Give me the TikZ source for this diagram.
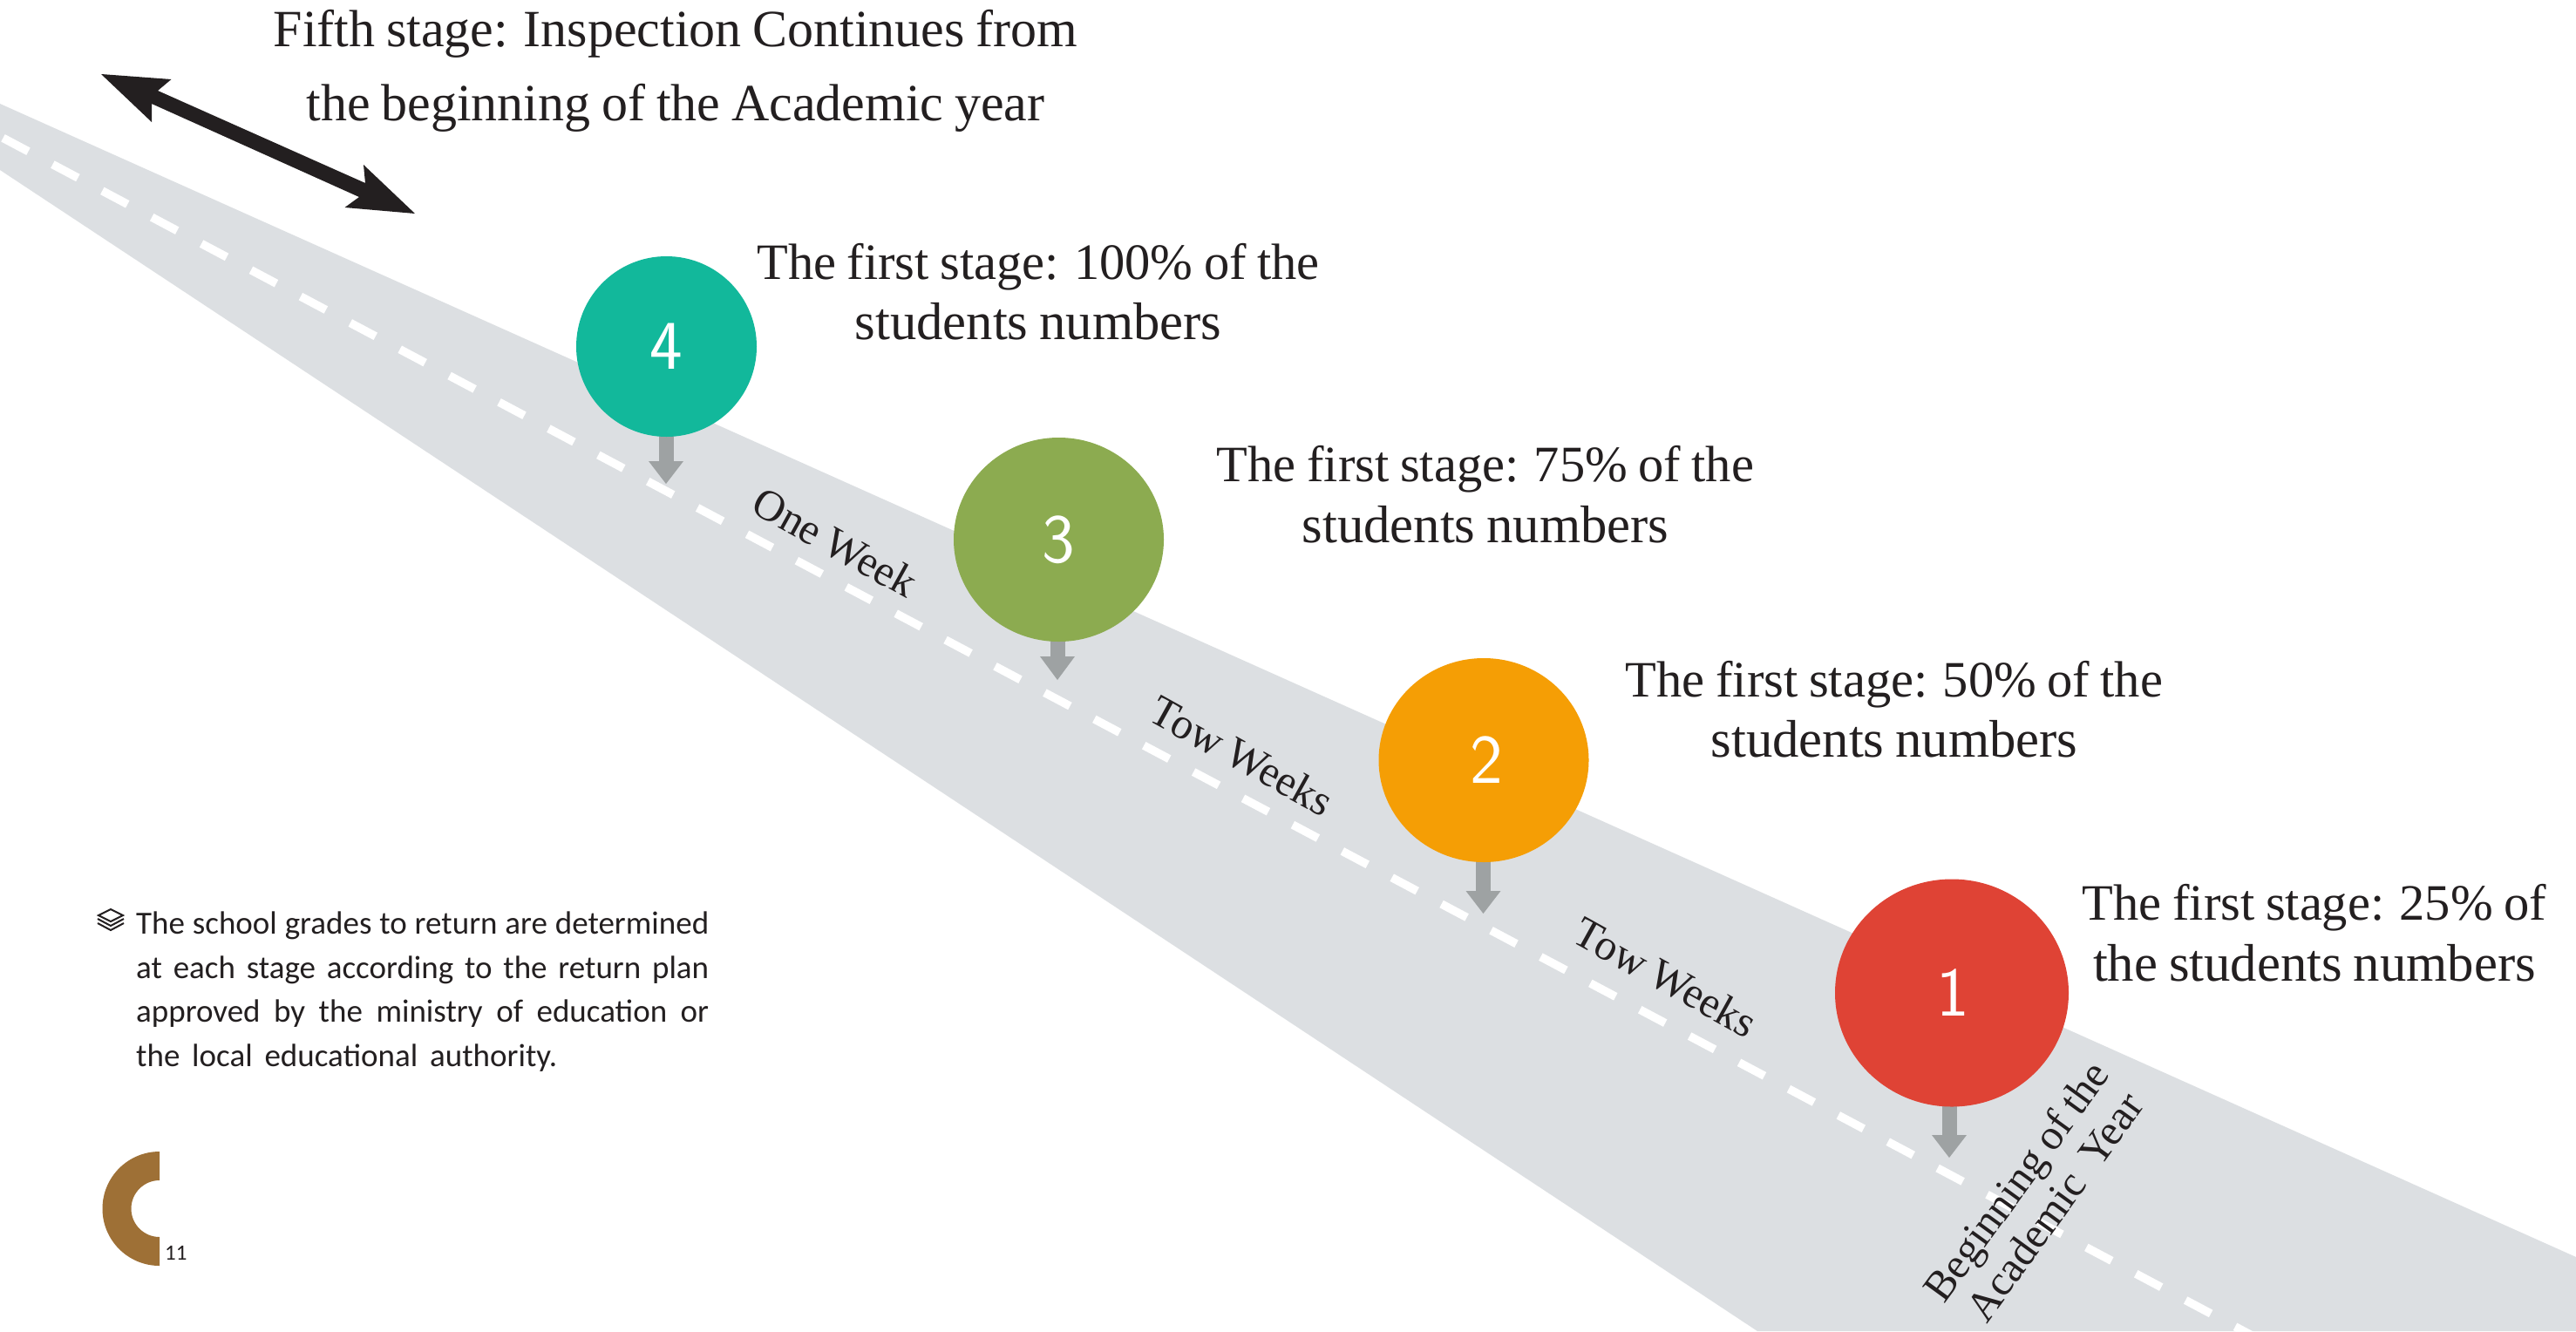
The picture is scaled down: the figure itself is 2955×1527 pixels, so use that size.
\documentclass[tikz,border=0pt]{standalone}
\usepackage{fontspec}
\usetikzlibrary{shapes.geometric}
\setmainfont[WordSpace=0.85]{Liberation Serif}
\newfontfamily\sansf{Carlito}
\definecolor{roadc}{HTML}{DCDFE2}
\definecolor{inkc}{HTML}{231F20}
\definecolor{pinc}{HTML}{9EA2A3}
\definecolor{cfour}{HTML}{12B89B}
\definecolor{cthree}{HTML}{8CAB50}
\definecolor{ctwo}{HTML}{F59E05}
\definecolor{cone}{HTML}{DF4335}
\definecolor{brownc}{HTML}{9E7036}
\tikzset{
 x=1pt,y=-1pt,
 stagebig/.style={text=inkc,inner sep=0pt,anchor=base,font=\fontsize{60}{60}\selectfont},
 stage/.style={text=inkc,inner sep=0pt,anchor=base,font=\fontsize{58.5}{58}\selectfont},
 stagewide/.style={text=inkc,inner sep=0pt,anchor=base,font=\fontsize{60.7}{61}\selectfont},
 roadlbl/.style={text=inkc,inner sep=0pt,anchor=center,font=\fontsize{50}{50}\selectfont},
 startlbl/.style={text=inkc,inner sep=0pt,anchor=base,rotate=54,font=\fontsize{49}{49}\selectfont},
 note/.style={text=inkc,inner sep=0pt,anchor=base west,font=\sansf\fontsize{37}{37}\selectfont},
 bubble/.style={ellipse,inner sep=0pt,text=white,font=\sffamily\fontsize{80}{80}\selectfont},
 pin/.style={fill=pinc,draw=none},
 icon/.style={inkc,line width=2pt,line join=miter},
}
\begin{document}
\begin{tikzpicture}
\useasboundingbox (0,0) rectangle (2955,1527);
\fill[white] (0,0) rectangle (2955,1527);
\fill[roadc] (0,119) -- (2955,1442) -- (2955,1527) -- (2016,1527) -- (0,195) -- cycle;
\foreach \i in {0,...,45}{
  \pgfmathsetmacro{\cx}{18+56.9*\i}
  \pgfmathsetmacro{\cy}{166+30.3*\i}
  \draw[white,line width=9.5pt] (\cx-14.5,\cy-7.7) -- (\cx+14.5,\cy+7.7);
}
% double arrow
\fill[inkc] (116,85) -- (196.5,91) -- (181,104) -- (419,210) -- (417,189) -- (476,245) -- (395.5,238) -- (412,226) -- (174,119) -- (174,140) -- cycle;
% pins
\foreach \x/\t/\h/\b in {764/498/529/555,1213/733/753/780,1701.5/986/1022/1048,2236/1266/1302/1328}{
  \fill[pin] (\x-8.5,\t) rectangle (\x+8.5,\h+1);
  \fill[pin] (\x-20,\h) -- (\x+20,\h) -- (\x,\b) -- cycle;
}
\node[bubble,fill=cfour,minimum width=207pt,minimum height=207pt] (c4) at (764.5,397.5) {4};
\node[bubble,fill=cthree,minimum width=241pt,minimum height=234pt] (c3) at (1214.5,619) {3};
\node[bubble,fill=ctwo,minimum width=241pt,minimum height=234pt] (c2) at (1702,872) {\hspace{6pt}2};
\node[bubble,fill=cone,minimum width=268pt,minimum height=261pt] (c1) at (2239,1139) {\hspace{3pt}1};
% texts
\node[stagebig] (t5a) at (775,53) {Fifth stage: Inspection Continues from};
\node[stagebig] (t5b) at (775,138) {the beginning of the Academic year};
\node[stage] (t4a) at (1191,320) {The first stage: 100\% of the};
\node[stagewide] (t4b) at (1191,389) {students numbers};
\node[stage] (t3a) at (1704,552) {The first stage: 75\% of the};
\node[stagewide] (t3b) at (1704,622) {students numbers};
\node[stage] (t2a) at (2173,799) {The first stage: 50\% of the};
\node[stagewide] (t2b) at (2173,868) {students numbers};
\node[stage] (t1a) at (2655,1055) {The first stage: 25\% of};
\node[stagewide] (t1b) at (2655,1125) {the students numbers};
\node[roadlbl,rotate=-29] (l1) at (958,622) {One Week};
\node[roadlbl,rotate=-29] (l2) at (1425,867) {Tow Weeks};
\node[roadlbl,rotate=-29] (l3) at (1911,1121) {Tow Weeks};
\node[startlbl] (l4a) at (2326,1365) {Beginning of the};
\node[startlbl] (l4b) at (2370,1394) {Academic\ \ Year};
% note
\node[note] (n1) at (156,1071) {\makebox[657pt][s]{The school grades to return are determined}};
\node[note] (n2) at (156,1122) {\makebox[657pt][s]{at each stage according to the return plan}};
\node[note] (n3) at (156,1172) {\makebox[657pt][s]{approved by the ministry of education or}};
\node[note] (n4) at (156,1223) {\makebox[483pt][s]{the local educational authority.}};
% layers icon
\draw[icon] (127,1043) -- (141,1050) -- (127,1057) -- (113,1050) -- cycle;
\draw[icon] (112,1054) -- (127,1062) -- (142,1054);
\draw[icon] (112,1059) -- (127,1067) -- (142,1059);
% logo
\fill[brownc] (183,1321) arc (270:90:65.5) -- (183,1419) arc (90:270:32.5) -- cycle;
\node[inner sep=0pt,anchor=base west,text=inkc,font=\sansf\fontsize{25}{25}\selectfont] (pg) at (189,1445) {11};
\end{tikzpicture}
\end{document}
